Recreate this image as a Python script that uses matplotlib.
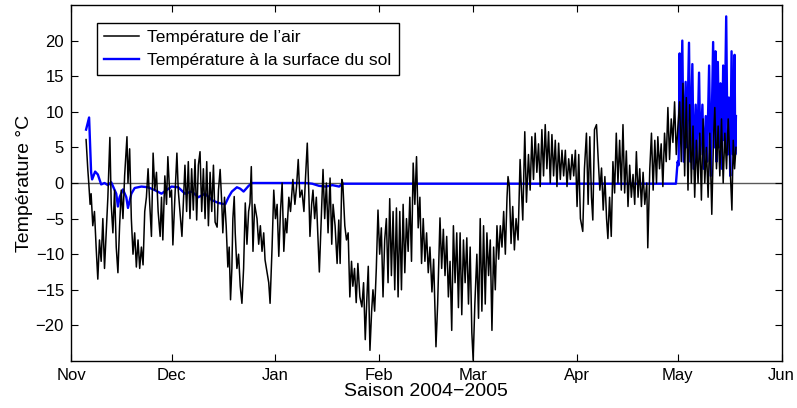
import matplotlib
matplotlib.use("Agg")
import matplotlib.pyplot as plt
import numpy as np

plt.rcParams['font.family'] = ['Liberation Sans', 'DejaVu Sans']

# Days counted from 1 November 2004
air_day = [4.5, 5.0, 5.3, 5.7, 6.0, 6.5, 7.0, 7.5, 8.0, 8.5, 9.0, 9.5, 10.0, 10.5, 11.0, 11.6, 12.0, 12.5, 13.0, 13.5,
           14.0, 14.5, 15.0, 15.5, 16.0, 16.7, 17.0, 17.5, 18.0, 18.5, 19.0, 19.5, 20.0, 20.5, 21.0, 21.5, 22.0, 22.5, 23.0, 23.5,
           24.0, 24.5, 25.0, 25.5, 26.0, 26.6, 27.0, 27.4, 28.0, 28.5, 28.9, 29.5,
           30.0, 30.4, 31.0, 31.6, 32.0, 32.5, 33.1, 33.5, 34.0, 34.5, 35.0, 35.5, 36.0, 36.5, 37.0, 37.5, 38.0, 38.5, 39.0, 39.5,
           40.0, 40.5, 41.0, 41.5, 42.0, 42.5, 43.0, 43.6, 44.0, 44.5, 45.0, 45.3, 45.8, 46.3, 46.8, 47.2, 47.6, 48.0, 48.3, 48.7,
           49.0, 49.5, 50.0, 50.5, 51.0, 51.5, 52.0, 52.5, 53.0, 53.4, 53.8, 54.3, 54.8, 55.5, 56.0, 56.5, 57.0, 57.5, 57.9, 58.5,
           59.0, 59.4, 60.0, 60.5, 61.0,
           61.5, 62.0, 62.5, 63.0, 63.5, 64.0, 64.4, 65.0, 65.5, 66.2, 66.8, 67.3, 67.8, 68.3, 68.9, 69.5, 70.0, 70.5, 71.0, 71.3,
           71.8, 72.2, 72.7, 73.2, 73.7, 74.1, 74.6, 75.2, 75.7, 76.2, 76.7, 77.3, 77.8, 78.2, 78.8, 79.4, 79.9, 80.3, 80.8, 81.1,
           81.7, 82.2, 82.7, 83.2, 83.7, 84.1, 84.6, 85.1, 85.6, 86.2, 86.8, 87.3, 87.8, 88.3, 88.7, 89.2, 89.7, 90.1, 90.6, 91.1,
           91.6, 92.1, 92.6, 93.1, 93.6, 94.1, 94.6, 95.1, 95.6, 96.1, 96.6, 97.1, 97.6, 98.1, 98.6, 99.1, 99.6, 100.1, 100.6, 101.1,
           101.6, 102.1, 102.6, 103.1, 103.6, 104.1, 104.6, 105.1, 105.6, 106.1, 106.6, 107.1, 107.7, 108.2, 108.9, 109.4, 110.1,
           110.6, 111.1, 111.6, 112.1, 112.6, 113.1, 113.6, 114.1, 114.6, 115.1, 115.6, 116.1, 116.6, 117.1, 117.6, 118.1, 118.6,
           119.1, 119.6, 120.0, 120.5, 121.1, 121.6, 122.1, 122.6, 123.1, 123.6, 124.1, 124.6, 125.1, 125.6, 126.1, 126.6, 127.1,
           127.6, 128.1, 128.6, 129.1, 129.6, 130.1, 130.4, 130.8, 131.3, 131.8, 132.3, 132.8, 133.4, 134.0, 134.8, 135.4, 135.9,
           136.5, 137.0, 137.5, 138.0, 138.5, 139.0, 139.5, 140.0, 140.5, 141.0, 141.5, 142.0, 142.5, 143.0, 143.5, 144.0, 144.5,
           145.0, 145.5, 146.0, 146.5, 147.0, 147.5, 148.0, 148.5, 149.0, 149.5, 150.0, 150.5, 151.0, 151.5, 152.0, 152.7, 153.2,
           153.8, 154.3, 154.8, 155.3, 155.7, 156.2, 156.8, 157.3, 157.8, 158.3, 158.8, 159.3, 159.8, 160.2, 160.7, 161.2, 161.7,
           162.2, 162.7, 163.2, 163.7, 164.2, 164.7, 165.2, 165.7, 166.2, 166.7, 167.2, 167.7, 168.2, 168.7, 169.2, 169.7, 170.2,
           170.7, 171.2, 171.8, 172.1, 172.7, 173.2, 173.7, 174.2, 174.7, 175.1, 175.6, 176.1, 176.6, 177.1, 177.6, 178.1, 178.6,
           179.1, 179.6, 180.1, 180.6, 181.1, 181.6, 182.1, 182.6, 183.1, 183.6, 184.1, 184.6, 185.1, 185.6, 186.1, 186.6, 187.1,
           187.6, 188.1, 188.6, 189.1, 189.6, 190.1, 190.6, 191.2, 191.7, 192.1, 192.6, 193.1, 193.6, 194.1, 194.6, 195.1, 195.6,
           196.1, 196.6, 197.2, 197.6, 198.0, 198.4]
air_temp = [6.1, 2.0, 0.0, -3, -1.5, -6, -4, -9, -13.5, -8, -11, -5, -12, -7, -2, 6.4, -3, -7, -1, -9,
            -12.6, -6, -1, -5, 1, 6.5, 0, 4.8, -5, -10, -7, -11.8, -8, -12, -9, -11.5, -4, -2, 2, -3,
            -7.5, 4.2, -1, 1.5, -4, -7.5, -2, -8, 1, -3, 3.7, -2,
            -1, -8.7, -2, 4.2, -1, -4, -7.5, -3, 2.5, -4, 3, -5, 2, -3.8, 3.3, -5.2, 2.5, 4.4, -4, 2,
            -5, 3, -6, 1.5, -4, 2.5, -5.5, -6.2, -1, 1.9, -3, -7, -2, -6, -11.8, -9, -16.4, -12, -5, -1.9,
            -7, -12, -10, -14.5, -16.9, -12, -2.8, -8.6, -4, -2.8, 2.3, -9.6, -3, -5, -8.6, -6, -9.6, -7, -10.8, -12.6,
            -14, -16.9, -9, -1, -5,
            -3, -10.3, -4, 0, -9.6, -5, -7, -2, -4, 0.5, -3, -0.5, 3.3, -2, -1, -4, 1, 5.6, -2, -7.5,
            -3, -1, -5, -2, -8, -12.5, -6, 1.9, -5, 0, -7, 0.7, -8.6, -3, -6, -11.3, -5.2, -11.3, 0.5, 0,
            -6, -8, -7, -16, -11, -14.5, -12, -16.8, -11.3, -16, -17.4, -14, -22, -16, -11.7, -23.5, -18, -15, -18, -12,
            -3.8, -10, -6.3, -16, -8, -5, -14, -2.2, -13, -4, -15, -3.5, -16, -4, -15, -3, -12.6, -5, -9.6, -2,
            -11, 2.8, -3, 3.7, -6.3, -2, -11.3, -5, -11, -7, -12.6, -9, -15.3, -10.7, -23, -17, -4.9,
            -12, -6.5, -13, -7.5, -16, -11, -20.7, -6, -14, -7, -17.5, -7, -18.5, -8, -14, -7.7, -17,
            -9, -21, -24.9, -17, -10, -19, -5, -18, -6, -17, -7, -13, -8, -20.7, -9, -15, -6,
            -10.7, -6, -9, -4, -10, -2, 0.9, -0.5, -8.5, -3.3, -9.4, -5, -8, 3.3, -5.2, 7.2, -2.7,
            4, -1, 6.5, 0.5, 7, 1.5, 5.5, -0.5, 7.5, 1, 8.2, 2, 7.2, 0, 6.8, 1, 6,
            -0.5, 5.6, 0.5, 4.6, 1, 4.6, -0.5, 3.4, 0.5, 4, 1, 4.6, -3.3, 4, -5, -6.8, 2,
            7, -3, 6.5, -2, -5.2, 7.5, 8.2, 3.4, -1, 2.1, -3.8, 0.9, -5, -7.8, -2, -7.5, 3,
            -1.4, 7, 0, 6, -1, 8.2, -1.4, 4.5, -3.3, 2.5, -2, 1.2, -3, 4.4, -2, 2, -3.3,
            1.5, -3, 0, -9.1, 2, 7, -1, 6, 0, 6.5, 2, 5.5, -0.5, 7, 3, 10.6, 3.3,
            9, 5.7, 11.4, 4, 8, 11.4, 3, 14, 1, 12, -1, 11, 0, 8, -2, 6, 0,
            7, -2.4, 9, 0, 5, -2, 7, -4.4, 6, 10.6, 2, 8, 1, 9, 0, 7, 2,
            9, 3, -3.8, 6, 2, 5]

sol_day = [4.5, 5.4, 6.0, 6.3, 7.2, 8.0, 9.0, 10.0, 11.0, 12.0, 13.5, 14.0, 14.5, 15.5, 16.5, 17.0, 18.0, 19.0, 21.0,
           23.0, 25.0, 27.0, 28.5, 30.0, 32.0, 34.0, 36.0, 38.0, 40.0, 42.0, 44.0, 46.0, 47.0, 48.0, 49.5, 50.5, 51.5,
           53.0, 54.0, 70.0, 72.0, 74.0, 76.0, 78.0, 80.0, 81.0, 100.0, 140.0, 180.5,
           181.0, 181.3, 181.6, 181.9, 182.4, 182.8, 183.4, 183.8, 184.4, 184.8, 185.4, 185.8, 186.4, 186.8, 187.4,
           187.8, 188.4, 188.8, 189.4, 189.8, 190.4, 190.9, 191.6, 191.9, 192.3, 192.6, 193.0, 193.4, 193.8, 194.2,
           194.6, 195.0, 195.5, 195.9, 196.3, 196.7, 197.1, 197.5, 198.0, 198.2, 198.4]
sol_temp = [7.5, 9.2, 1.5, 0.5, 1.6, 1.2, -0.2, 0, -0.3, 0.1, -1.5, -3.3, -2, -0.9, -2, -3.5, -1.5, -0.7, -0.5,
            -0.6, -1, -1.5, -1, -0.5, -0.6, -1.5, -1.2, -2, -1.5, -2.4, -2.8, -3, -2, -1.2, -0.6, -0.8, -1.2,
            -0.4, 0, 0, -0.1, -0.4, -0.5, -0.3, -0.5, -0.1, -0.1, -0.1, -0.1,
            3.0, 2.5, 18.2, 6, 20, 3, 14.2, 5, 19.7, 3, 16.7, 2, 11, 3, 15.5,
            4, 11, 2, 9.4, 3, 16.5, 1, 19.8, 5, 18.5, 3, 17, 5, 14, 2,
            16.5, 6, 23.4, 4, 12, 1, 18.5, 4, 18, 4, 9.4]

month_ticks = [0, 30, 61, 92, 120, 151, 181, 212]
month_labels = ['Nov', 'Dec', 'Jan', 'Feb', 'Mar', 'Apr', 'May', 'Jun']
y_ticks = [-20, -15, -10, -5, 0, 5, 10, 15, 20]

fig = plt.figure(figsize=(7.97, 4.08), dpi=100)
ax = fig.add_axes([71/797, 1 - 361/408, 710.5/797, 356/408])

ax.axhline(0, color='0.35', lw=1.0, zorder=1)
ax.plot(air_day, air_temp, color='black', lw=1.1, label="Température de l’air", zorder=3)
ax.plot(sol_day, sol_temp, color='#0000ff', lw=1.7, label='Température à la surface du sol', zorder=2)

ax.set_xlim(0, 212)
ax.set_ylim(-25, 25)
ax.set_xticks(month_ticks)
ax.set_xticklabels(month_labels)
ax.set_yticks(y_ticks)
ax.tick_params(direction='in', top=True, right=True, length=5, width=0.8, labelsize=12, pad=5)
for s in ax.spines.values():
    s.set_linewidth(1.0)

ax.set_xlabel('Saison 2004−2005', fontsize=14, labelpad=0)
ax.set_ylabel('Température °C', fontsize=14, labelpad=2)

leg = ax.legend(loc='upper left', bbox_to_anchor=(26/710.5, 1 - 18/356), borderaxespad=0,
                fancybox=False, framealpha=1, edgecolor='black', fontsize=12.5,
                handlelength=2.0, handletextpad=0.5, borderpad=0.4, labelspacing=0.45)
leg.get_frame().set_linewidth(1.0)

fig.savefig('out.png', dpi=100)
